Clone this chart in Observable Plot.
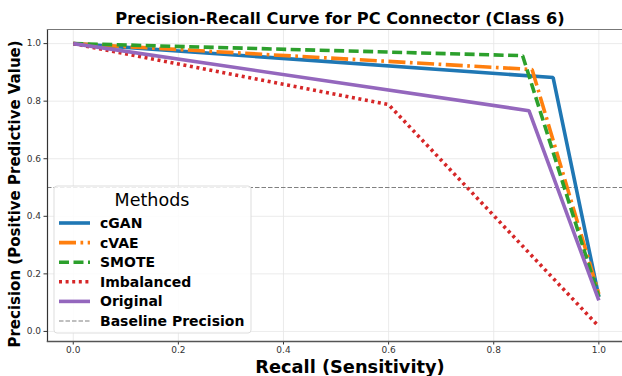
<!DOCTYPE html>
<html><head><meta charset="utf-8">
<script src="https://cdn.jsdelivr.net/npm/d3@7"></script>
<script src="https://cdn.jsdelivr.net/npm/@observablehq/plot@0.6"></script>
<style>
body{margin:0;background:#fff;font-family:"DejaVu Sans",sans-serif;}
#c{position:relative;width:622px;height:376px;}
</style></head><body><div id="c"></div>
<script>
const methods = ["cGAN","cVAE","SMOTE","Imbalanced","Original"];
const colors = ["#1f77b4","#ff7f0e","#2ca02c","#d62728","#9467bd"];
const dashes = [null,"17,4.5,2.7,4.5","10,4.5","3,3.6",null];
const recall = {
  cGAN:[0,0.913,1], cVAE:[0,0.873,1], SMOTE:[0,0.855,1], Imbalanced:[0,0.6,1], Original:[0,0.867,1]
};
const precision = {
  cGAN:[1,0.882,0.12], cVAE:[1,0.91,0.13], SMOTE:[1,0.958,0.12], Imbalanced:[1,0.788,0.017], Original:[1,0.767,0.108]
};
const baseline = 0.5;
const xTicks = [0,0.2,0.4,0.6,0.8,1.0];
const yTicks = [0,0.2,0.4,0.6,0.8,1.0];

const rows = methods.flatMap(m => recall[m].map((r,i)=>({method:m, recall:r, precision:precision[m][i]})));

const lineMarks = methods.map((m,i)=>Plot.line(rows.filter(d=>d.method===m),{
  x:"recall", y:"precision", stroke:colors[i], strokeWidth:3.6,
  strokeDasharray:dashes[i]||undefined, strokeLinecap:"butt", strokeLinejoin:"miter"
}));

const chart = Plot.plot({
  width:622, height:376,
  marginLeft:47, marginRight:0, marginTop:29, marginBottom:35,
  style:{fontFamily:"DejaVu Sans", fontSize:"9px", color:"#333", background:"#fff"},
  x:{domain:[-0.049,1.045], ticks:xTicks, tickFormat:d3.format(".1f"), label:null},
  y:{domain:[-0.035,1.049], ticks:yTicks, tickFormat:d3.format(".1f"), label:null},
  marks:[
    Plot.gridX(xTicks,{stroke:"#e6e6e6", strokeOpacity:1, strokeWidth:0.8}),
    Plot.gridY(yTicks,{stroke:"#e6e6e6", strokeOpacity:1, strokeWidth:0.8}),
    Plot.ruleY([baseline],{stroke:"#808080", strokeWidth:1.2, strokeDasharray:"4.5,2"}),
    ...lineMarks,
    Plot.axisX({ticks:xTicks, tickFormat:d3.format(".1f"), tickSize:3.5, tickPadding:2, label:null, fill:"#333"}),
    Plot.axisY({ticks:yTicks, tickFormat:d3.format(".1f"), tickSize:3.5, tickPadding:3, label:null, fill:"#333"}),
    Plot.frame({anchor:"left", stroke:"#333", strokeWidth:1.2}),
    Plot.frame({anchor:"bottom", stroke:"#555", strokeWidth:1.4}),
    Plot.frame({anchor:"top", stroke:"#777", strokeWidth:1.2})
  ]
});
document.getElementById("c").appendChild(chart);

const svg = d3.select(chart);
svg.append("text").attr("x",340).attr("y",24).attr("text-anchor","middle")
  .attr("font-size","16.2px").attr("font-weight","bold").attr("fill","#000")
  .text("Precision-Recall Curve for PC Connector (Class 6)");
svg.append("text").attr("x",350).attr("y",373).attr("text-anchor","middle")
  .attr("font-size","17.8px").attr("font-weight","bold").attr("fill","#000")
  .text("Recall (Sensitivity)");
svg.append("text").attr("transform","translate(20,194) rotate(-90)").attr("text-anchor","middle")
  .attr("font-size","15px").attr("font-weight","bold").attr("fill","#000")
  .text("Precision (Positive Predictive Value)");

// legend
const lg = svg.append("g").attr("transform","translate(54,186)");
lg.append("rect").attr("x",0).attr("y",0).attr("width",197).attr("height",147).attr("rx",3)
  .attr("fill","rgba(255,255,255,0.85)").attr("stroke","#ddd");
lg.append("text").attr("x",98).attr("y",20).attr("text-anchor","middle").attr("font-size","17.5px").attr("fill","#000").text("Methods");
const labels = [...methods,"Baseline Precision"];
labels.forEach((lab,i)=>{
  const y = 37 + i*19.6;
  const isBase = i===5;
  lg.append("line").attr("x1",5).attr("x2",36).attr("y1",y).attr("y2",y)
    .attr("stroke", isBase?"#808080":colors[i]).attr("stroke-width", isBase?1.2:3.6)
    .attr("stroke-dasharray", isBase?"4.5,2":(dashes[i]||null));
  lg.append("text").attr("x",46).attr("y",y+5).attr("text-anchor","start").attr("font-size","14px").attr("font-weight","bold").attr("fill","#000").text(lab);
});
</script></body></html>
